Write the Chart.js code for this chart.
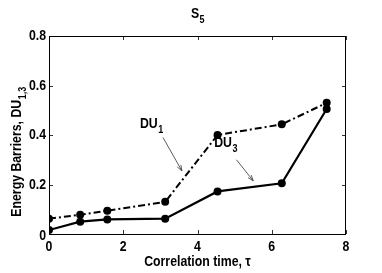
<!DOCTYPE html>
<html><head><meta charset="utf-8">
<script src="https://cdn.jsdelivr.net/npm/chart.js@4/dist/chart.umd.min.js"></script>
<style>html,body{margin:0;padding:0;background:#fff}#w{width:382px;height:273px}</style>
</head><body><div id="w"><canvas id="c"></canvas></div>
<script>
const tau = [0, 0.84, 1.57, 3.13, 4.54, 6.27, 7.48];
const du1 = [0.062, 0.078, 0.094, 0.13, 0.40, 0.443, 0.53];
const du3 = [0.016, 0.05, 0.059, 0.062, 0.172, 0.205, 0.505];
const xTicks = [0, 2, 4, 6, 8];
const yTicks = [0, 0.2, 0.4, 0.6, 0.8];
const titleMain = 'S', titleSub = '5';
const xLabel = 'Correlation time, \u03c4';
const yLabelMain = 'Energy Barriers, DU', yLabelSub = '1,3';

const FF = "'Liberation Sans',Arial,sans-serif";
const SX = 0.82; // horizontal condensing to mimic a narrow bold face
const pts = (ys) => tau.map((t, i) => ({x: t, y: ys[i]}));

// draw text condensed horizontally; align: left/center/right, baseline given
function nText(ctx, s, x, y, size, align, baseline) {
  ctx.save();
  ctx.font = 'bold ' + size + 'px ' + FF;
  ctx.textAlign = 'left'; ctx.textBaseline = baseline || 'alphabetic';
  const w = ctx.measureText(s).width * SX;
  let x0 = align === 'center' ? x - w / 2 : align === 'right' ? x - w : x;
  ctx.translate(x0, y); ctx.scale(SX, 1);
  ctx.fillText(s, 0, 0);
  ctx.restore();
  return w;
}
function nWidth(ctx, s, size) {
  ctx.save(); ctx.font = 'bold ' + size + 'px ' + FF;
  const w = ctx.measureText(s).width * SX; ctx.restore(); return w;
}
function subText(ctx, x, y, main, sub, size, align) {
  const sz2 = Math.round(size * 0.7);
  const w1 = nWidth(ctx, main, size), w2 = nWidth(ctx, sub, sz2);
  const x0 = align === 'center' ? x - (w1 + w2) / 2 : x;
  nText(ctx, main, x0, y, size, 'left');
  nText(ctx, sub, x0 + w1 + 0.5, y + size * 0.33, sz2, 'left');
}
function arrow(ctx, x1, y1, x2, y2) {
  ctx.save();
  ctx.strokeStyle = '#333'; ctx.lineWidth = 0.8; ctx.setLineDash([]);
  ctx.beginPath(); ctx.moveTo(x1, y1); ctx.lineTo(x2, y2); ctx.stroke();
  const a = Math.atan2(y2 - y1, x2 - x1), L = 6, s = 0.35;
  ctx.beginPath(); ctx.moveTo(x2, y2);
  ctx.lineTo(x2 - L * Math.cos(a - s), y2 - L * Math.sin(a - s));
  ctx.moveTo(x2, y2);
  ctx.lineTo(x2 - L * Math.cos(a + s), y2 - L * Math.sin(a + s));
  ctx.stroke();
  ctx.restore();
}

const deco = {
  id: 'deco',
  afterDraw(chart) {
    const {ctx, chartArea: a, scales: {x, y}} = chart;
    ctx.save();
    ctx.strokeStyle = '#000'; ctx.lineWidth = 1; ctx.setLineDash([]);
    ctx.strokeRect(a.left + 0.5, a.top + 0.5, a.right - a.left - 1, a.bottom - a.top);
    ctx.lineWidth = 0.8;
    xTicks.forEach(v => {
      const px = Math.round(x.getPixelForValue(v)) + 0.5;
      ctx.beginPath(); ctx.moveTo(px, a.bottom); ctx.lineTo(px, a.bottom - 4);
      ctx.moveTo(px, a.top); ctx.lineTo(px, a.top + 4); ctx.stroke();
    });
    yTicks.forEach(v => {
      const py = Math.round(y.getPixelForValue(v)) + 0.5;
      ctx.beginPath(); ctx.moveTo(a.left, py); ctx.lineTo(a.left + 4, py);
      ctx.moveTo(a.right, py); ctx.lineTo(a.right - 4, py); ctx.stroke();
    });
    ctx.fillStyle = '#000';
    // tick labels
    xTicks.forEach(v => nText(ctx, String(v), x.getPixelForValue(v), a.bottom + 5, 15, 'center', 'top'));
    yTicks.forEach(v => nText(ctx, v === 0 ? '0' : v.toFixed(1), a.left - 3, y.getPixelForValue(v) + (v === 0 ? 2 : 0), 15, 'right', 'middle'));
    // title
    subText(ctx, (a.left + a.right) / 2, 18, titleMain, titleSub, 15, 'center');
    // x label
    nText(ctx, xLabel, (a.left + a.right) / 2, 266, 15, 'center');
    // y label
    ctx.save();
    ctx.translate(21, (a.top + a.bottom) / 2 + 17);
    ctx.rotate(-Math.PI / 2);
    subText(ctx, 0, 0, yLabelMain, yLabelSub, 15, 'center');
    ctx.restore();
    // annotations
    subText(ctx, x.getPixelForValue(2.45), y.getPixelForValue(0.43), 'DU', '1', 15, 'left');
    arrow(ctx, x.getPixelForValue(3.07), y.getPixelForValue(0.39), x.getPixelForValue(3.58), y.getPixelForValue(0.255));
    subText(ctx, x.getPixelForValue(4.45), y.getPixelForValue(0.35), 'DU', '3', 15, 'left');
    arrow(ctx, x.getPixelForValue(5.05), y.getPixelForValue(0.30), x.getPixelForValue(5.5), y.getPixelForValue(0.215));
    ctx.restore();
  }
};

new Chart(document.getElementById('c'), {
  type: 'scatter',
  data: {
    datasets: [
      {label: 'DU1', data: pts(du1), showLine: true, borderColor: '#000', backgroundColor: '#000',
       borderWidth: 2, borderDash: [7, 3, 2, 3], pointRadius: 4, pointBorderWidth: 0, pointBackgroundColor: '#000'},
      {label: 'DU3', data: pts(du3), showLine: true, borderColor: '#000', backgroundColor: '#000',
       borderWidth: 2.2, pointRadius: 4, pointBorderWidth: 0, pointBackgroundColor: '#000'}
    ]
  },
  options: {
    responsive: true, maintainAspectRatio: false, animation: false,
    layout: {padding: {left: 0, right: 36, top: 36, bottom: 0}},
    plugins: {legend: {display: false}, tooltip: {enabled: false}},
    scales: {
      x: {
        type: 'linear', min: 0, max: 8,
        afterBuildTicks: s => { s.ticks = xTicks.map(v => ({value: v})); },
        afterFit: s => { s.height = 39; },
        grid: {display: false, drawTicks: false}, border: {display: false},
        ticks: {display: false}
      },
      y: {
        type: 'linear', min: 0, max: 0.8,
        afterBuildTicks: s => { s.ticks = yTicks.map(v => ({value: v})); },
        afterFit: s => { s.width = 49; },
        grid: {display: false, drawTicks: false}, border: {display: false},
        ticks: {display: false}
      }
    }
  },
  plugins: [deco]
});
</script></body></html>
